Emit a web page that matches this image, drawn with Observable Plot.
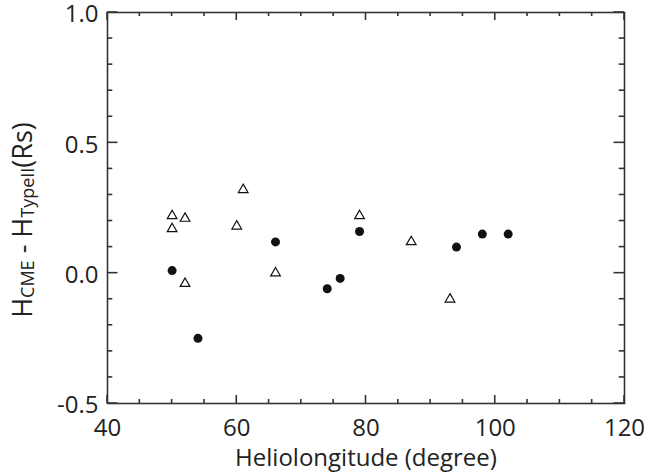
<!DOCTYPE html>
<html><head><meta charset="utf-8">
<script src="https://cdn.jsdelivr.net/npm/d3@7"></script>
<script src="https://cdn.jsdelivr.net/npm/@observablehq/plot@0.6"></script>
<style>body{margin:0;background:#fff;} #pad{position:absolute;left:440px;top:40px;font:9px monospace;color:#fff;width:10px;}</style>
</head><body><div id="chart"></div><div id="pad"></div>
<script>
// Filled circles
const circleX = [50, 54, 66, 74, 76, 79, 94, 98, 102];
const circleY = [0.01, -0.25, 0.12, -0.06, -0.02, 0.16, 0.10, 0.15, 0.15];
// Open triangles
const triX = [50, 50, 52, 52, 60, 61, 66, 79, 87, 93];
const triY = [0.22, 0.17, 0.21, -0.04, 0.18, 0.32, 0.00, 0.22, 0.12, -0.10];
// Ticks
const xMajor = [40, 60, 80, 100, 120];
const xMinor = [45, 50, 55, 65, 70, 75, 85, 90, 95, 105, 110, 115];
const yMajor = [-0.5, 0.0, 0.5, 1.0];
const yMinor = [-0.4, -0.3, -0.2, -0.1, 0.1, 0.2, 0.3, 0.4, 0.6, 0.7, 0.8, 0.9];
const xLabel = "Heliolongitude (degree)";

const circles = circleX.map((x, i) => ({x, y: circleY[i]}));
const tris = triX.map((x, i) => ({x, y: triY[i]}));

const ink = "#333";

const plot = Plot.plot({
  width: 648, height: 475,
  marginLeft: 107, marginRight: 24, marginTop: 12, marginBottom: 72,
  x: {domain: [40, 120]},
  y: {domain: [-0.5, 1.0]},
  style: {fontFamily: "'Open Sans', sans-serif", color: "#222", background: "#fff"},
  marks: [
    Plot.frame({stroke: ink, strokeWidth: 1.6}),
    Plot.axisX({anchor: "bottom", ticks: xMajor, tickSize: 0, tickPadding: 15, label: null, fontSize: 24, tickFormat: d => String(d)}),
    Plot.axisY({anchor: "left", ticks: yMajor, tickSize: 0, tickPadding: 9, label: null, fontSize: 24, tickFormat: d => d.toFixed(1), dy: 2}),
    Plot.text([xLabel], {text: d => d, frameAnchor: "bottom", dy: 62, fontSize: 24, fill: "#222"}),
    Plot.dot(tris, {x: "x", y: "y", symbol: "triangle", r: 3.6, fill: "#fff", stroke: "#111", strokeWidth: 1.2}),
    Plot.dot(circles, {x: "x", y: "y", symbol: "circle", r: 4.5, fill: "#111", stroke: "none"})
  ]
});
document.getElementById("chart").appendChild(plot);

const svg = d3.select(plot);

// Inward ticks on all four sides, placed with the plot's own scales
const xs = plot.scale("x"), ys = plot.scale("y");
const [x0, x1] = xs.range, [y0, y1] = ys.range; // y0 = bottom, y1 = top
const tg = svg.append("g").attr("stroke", ink).attr("stroke-width", 1.6).attr("fill", "none");
const addX = (vals, len) => vals.forEach(v => {
  const x = xs.apply(v);
  tg.append("line").attr("x1", x).attr("x2", x).attr("y1", y0).attr("y2", y0 - len);
  tg.append("line").attr("x1", x).attr("x2", x).attr("y1", y1).attr("y2", y1 + len);
});
const addY = (vals, len) => vals.forEach(v => {
  const y = ys.apply(v);
  tg.append("line").attr("x1", x0).attr("x2", x0 + len).attr("y1", y).attr("y2", y);
  tg.append("line").attr("x1", x1).attr("x2", x1 - len).attr("y1", y).attr("y2", y);
});
addX(xMajor, 8); addX(xMinor, 4);
addY(yMajor, 10.5); addY(yMinor, 5.3);

// Y-axis title with subscripts
const t = svg.append("text")
  .attr("transform", "translate(32,220) rotate(-90)")
  .attr("text-anchor", "middle")
  .attr("fill", "#222")
  .attr("font-family", "'Open Sans', sans-serif")
  .attr("font-size", 27);
t.append("tspan").text("H");
t.append("tspan").attr("font-size", 18).attr("dy", 2).text("CME");
t.append("tspan").attr("dy", -2).text(" - H");
t.append("tspan").attr("font-size", 18).attr("dy", 2).text("TypeII");
t.append("tspan").attr("dy", -2).text("(Rs)");

// force a final layout/repaint after the svg edits
document.getElementById("pad").textContent = "\u00a0";
void document.body.offsetHeight;
</script>
</body></html>
